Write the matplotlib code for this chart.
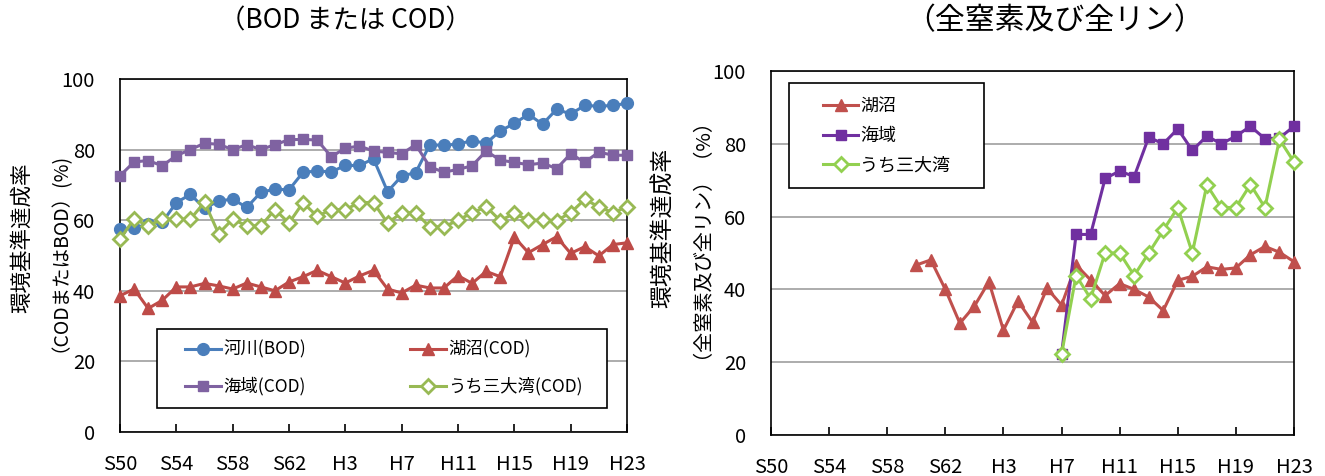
import matplotlib
matplotlib.use("Agg")
import matplotlib.pyplot as plt
from matplotlib import font_manager
from matplotlib.patches import Rectangle
import numpy as np

names = {f.name for f in font_manager.fontManager.ttflist}
CJK = "Noto Sans CJK JP"
NARROW = "Liberation Sans Narrow" if "Liberation Sans Narrow" in names else CJK
plt.rcParams["font.family"] = [CJK, "DejaVu Sans"]

# ---------------- data ----------------
years = list(range(1975, 2012))            # S50 ... H23
tick_years = years[::4]
tick_labels = ["S50", "S54", "S58", "S62", "H3", "H7", "H11", "H15", "H19", "H23"]

river_bod = [57.4, 57.7, 59.0, 59.4, 65.0, 67.3, 63.4, 65.4, 66.0, 63.6,
             67.9, 68.8, 68.6, 73.6, 73.9, 73.7, 75.5, 75.5, 77.4, 68.1,
             72.5, 73.5, 81.4, 81.2, 81.6, 82.5, 81.8, 85.3, 87.4, 90.0,
             87.2, 91.4, 90.1, 92.5, 92.3, 92.5, 93.1]
lake_cod = [38.6, 40.5, 35.0, 37.3, 41.1, 41.1, 42.1, 41.4, 40.5, 42.2,
            41.1, 40.0, 42.5, 44.0, 45.8, 44.0, 42.2, 44.2, 45.8, 40.5,
            39.4, 41.6, 40.8, 40.8, 44.3, 42.1, 45.5, 44.0, 55.2, 50.8,
            53.1, 55.3, 50.6, 52.5, 49.9, 53.1, 53.6]
sea_cod = [72.6, 76.5, 76.9, 75.4, 78.3, 80.0, 81.8, 81.5, 80.0, 81.4,
           80.0, 81.4, 82.8, 82.9, 82.7, 78.0, 80.4, 81.0, 79.6, 79.2,
           78.8, 81.4, 75.1, 73.6, 74.4, 75.4, 79.6, 77.0, 76.4, 75.7,
           76.2, 74.6, 78.8, 76.4, 79.3, 78.4, 78.4]
bays_cod = [54.6, 60.4, 58.4, 60.3, 60.3, 60.3, 65.1, 56.2, 60.3, 58.4,
            58.4, 63.0, 59.2, 65.0, 61.1, 63.0, 63.0, 65.0, 65.0, 59.2,
            62.1, 62.1, 58.1, 58.1, 60.0, 62.1, 63.8, 59.9, 61.9, 60.0,
            60.0, 59.9, 62.1, 65.9, 63.8, 62.1, 63.8]

tnp_lake_start = 1985                      # S60
tnp_lake = [46.7, 48.1, 40.0, 30.7, 35.4, 42.1, 28.8, 36.8, 31.0, 40.3,
            35.7, 46.7, 42.6, 38.3, 41.6, 40.0, 37.9, 34.2, 42.5, 43.6,
            46.2, 45.5, 45.9, 49.5, 51.8, 50.2, 47.6]
tnp_sea_start = 1995                       # H7
tnp_sea = [22.2, 55.1, 55.1, 70.5, 72.5, 71.0, 81.8, 80.0, 84.1, 78.2,
           82.1, 80.0, 82.1, 84.8, 81.4, 81.6, 84.8]
tnp_bays = [22.2, 43.8, 37.5, 50.0, 50.0, 43.8, 50.0, 56.2, 62.5, 50.0,
            68.7, 62.5, 62.5, 68.8, 62.5, 81.2, 75.0]

left_labels = ["河川(BOD)", "海域(COD)", "湖沼(COD)", "うち三大湾(COD)"]
right_labels = ["湖沼", "海域", "うち三大湾"]

# ---------------- figure ----------------
W, H = 1325, 476
fig = plt.figure(figsize=(W / 100, H / 100), dpi=100)
axL = fig.add_axes([120 / W, 1 - 432 / H, 507 / W, 353 / H])
axR = fig.add_axes([771 / W, 1 - 435 / H, 523 / W, 364 / H])


def style(ax):
    ax.set_xlim(years[0], years[-1])
    ax.set_ylim(0, 100)
    ax.set_yticks(range(0, 101, 20))
    ax.set_xticks(tick_years)
    ax.set_xticklabels(tick_labels)
    ax.tick_params(axis="x", direction="in", length=6, width=1.2, pad=16,
                   labelsize=14.5, colors="black")
    ax.tick_params(axis="y", length=0, pad=18, labelsize=14.5)
    ax.yaxis.grid(True, color="#A6A6A6", linewidth=1.3)
    ax.set_axisbelow(True)
    for s in ax.spines.values():
        s.set_color("black")
        s.set_linewidth(1.2)


style(axL)
style(axR)

lw = 2.2
yrs = np.array(years)
hR, = axL.plot(yrs, river_bod, color="#4A7EBB", lw=lw, marker="o", ms=8.5,
               clip_on=False, zorder=3)
hL, = axL.plot(yrs, lake_cod, color="#BE4B48", lw=lw, marker="^", ms=9,
               clip_on=False, zorder=3)
hS, = axL.plot(yrs, sea_cod, color="#7F62A1", lw=lw, marker="s", ms=7,
               clip_on=False, zorder=3)
hB, = axL.plot(yrs, bays_cod, color="#98B954", lw=lw, marker="D", ms=7,
               mfc="white", mec="#98B954", mew=2, clip_on=False, zorder=3)

ly = np.arange(tnp_lake_start, tnp_lake_start + len(tnp_lake))
sy = np.arange(tnp_sea_start, tnp_sea_start + len(tnp_sea))
r1, = axR.plot(ly, tnp_lake, color="#C0504D", lw=lw, marker="^", ms=9,
               clip_on=False, zorder=3)
r2, = axR.plot(sy, tnp_sea, color="#7030A0", lw=lw, marker="s", ms=7.5,
               clip_on=False, zorder=3)
r3, = axR.plot(sy, tnp_bays, color="#92D050", lw=lw, marker="D", ms=7,
               mfc="white", mec="#92D050", mew=2, clip_on=False, zorder=3)

# ---------------- legends ----------------
axL.add_patch(Rectangle((0.073, 0.068), 0.888, 0.224, transform=axL.transAxes,
                        facecolor="white", edgecolor="black", lw=1.2, zorder=4))
common = dict(frameon=False, borderpad=0, handletextpad=0.1, numpoints=1,
              borderaxespad=0)
legA = axL.legend([hR, hS], left_labels[:2], loc="center left",
                  bbox_to_anchor=(0.128, 0.181), fontsize=12.5,
                  handlelength=2.1, labelspacing=1.05, **common)
legA.set_zorder(5)
axL.add_artist(legA)
legB = axL.legend([hL, hB], left_labels[2:], loc="center left",
                  bbox_to_anchor=(0.572, 0.181), fontsize=12.5,
                  handlelength=2.1, labelspacing=1.05, **common)
legB.set_zorder(5)

axR.add_patch(Rectangle((0.0344, 0.6786), 0.3726, 0.2884, transform=axR.transAxes,
                        facecolor="white", edgecolor="black", lw=1.2, zorder=4))
legR = axR.legend([r1, r2, r3], right_labels, loc="center left",
                  bbox_to_anchor=(0.0994, 0.8214), fontsize=13,
                  handlelength=1.95, labelspacing=0.65, **common)
legR.set_zorder(5)

# ---------------- titles and axis labels ----------------
fig.text(345 / W, 1 - 21 / H, "（BOD または COD）", ha="center", va="center",
         fontsize=19, family=[NARROW, CJK])
fig.text(1055 / W, 1 - 21 / H, "（全窒素及び全リン）", ha="center", va="center",
         fontsize=21.5, family=[CJK])

fig.text(22 / W, 1 - 238 / H, "環境基準達成率", rotation=90, ha="center",
         va="center", fontsize=15.5)
fig.text(50 / W, 1 - 247 / H, "（CODまたはBOD）(%)", rotation=90, ha="center",
         va="center", fontsize=14)
fig.text(663 / W, 1 - 228 / H, "環境基準達成率", rotation=90, ha="center",
         va="center", fontsize=16.5)
fig.text(692 / W, 1 - 228 / H, "（全窒素及び全リン）（%）", rotation=90,
         ha="center", va="center", fontsize=14.5)

fig.savefig("out.png", dpi=100)
